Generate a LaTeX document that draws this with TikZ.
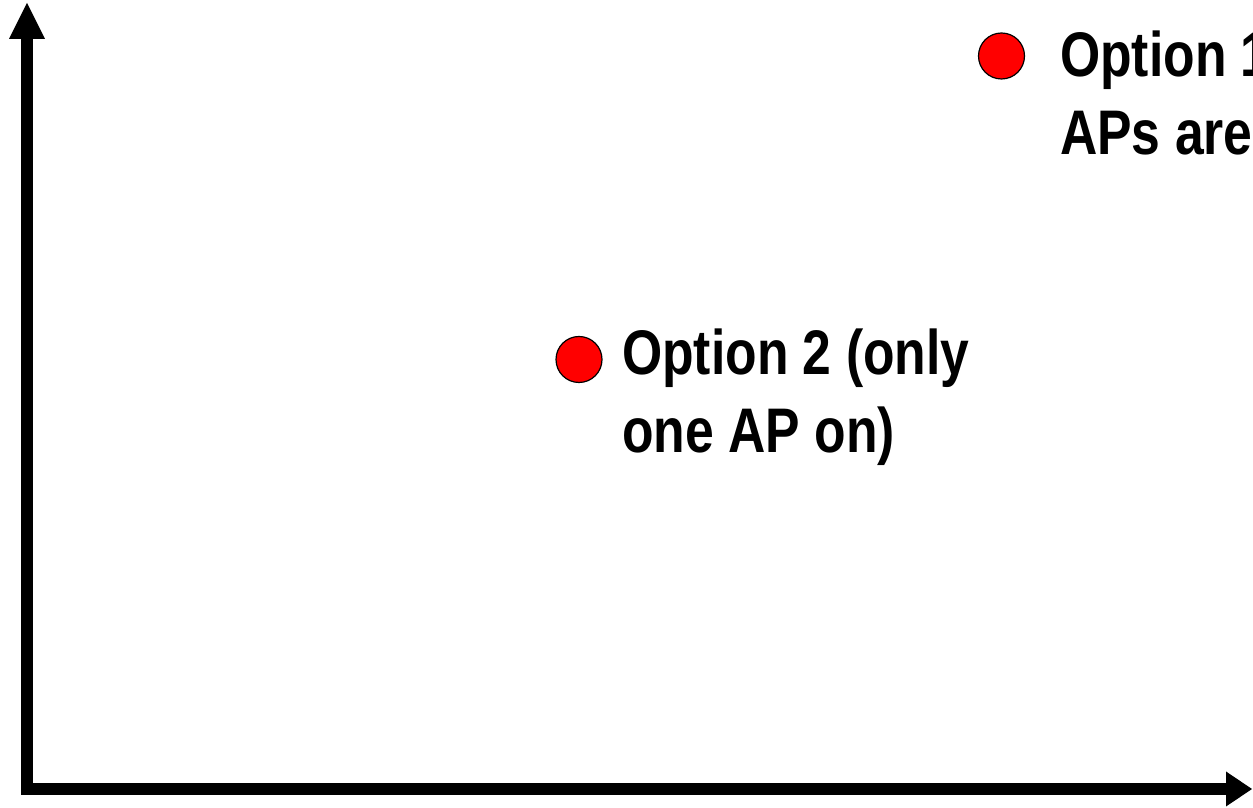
\documentclass[tikz,border=0pt]{standalone}
\usepackage{fontspec}
\newfontfamily\narrowfont{Liberation Sans}[FakeStretch=0.82]
\definecolor{dotred}{RGB}{255,0,0}
\begin{document}
\begin{tikzpicture}[x=1pt,y=1pt,
  axis/.style={fill=black},
  dot/.style={circle,draw=black,line width=1.2pt,fill=dotred,minimum size=46pt,inner sep=0pt},
  label/.style={anchor=base west,inner sep=0pt,font=\narrowfont\bfseries\fontsize{63}{78}\selectfont,align=left}]
\useasboundingbox (0,0) rectangle (1253,808);
\clip (0,0) rectangle (1253,808);
% vertical axis
\fill[axis] (21,13) rectangle (33,769);
\fill[axis] (9,769) -- (45,769) -- (27,805) -- cycle;
% horizontal axis
\fill[axis] (21,13) rectangle (1226,25);
\fill[axis] (1226,1.5) -- (1226,36.5) -- (1252,19) -- cycle;
% points
\node[dot] (p2) at (579,448.5) {};
\node[label] (t2) at (622,355) {Option 2 (only\\one AP on)};
\node[dot] (p1) at (1001.5,752) {};
\node[label] (t1) at (1060,653) {Option 1\\APs are};
\end{tikzpicture}
\end{document}
